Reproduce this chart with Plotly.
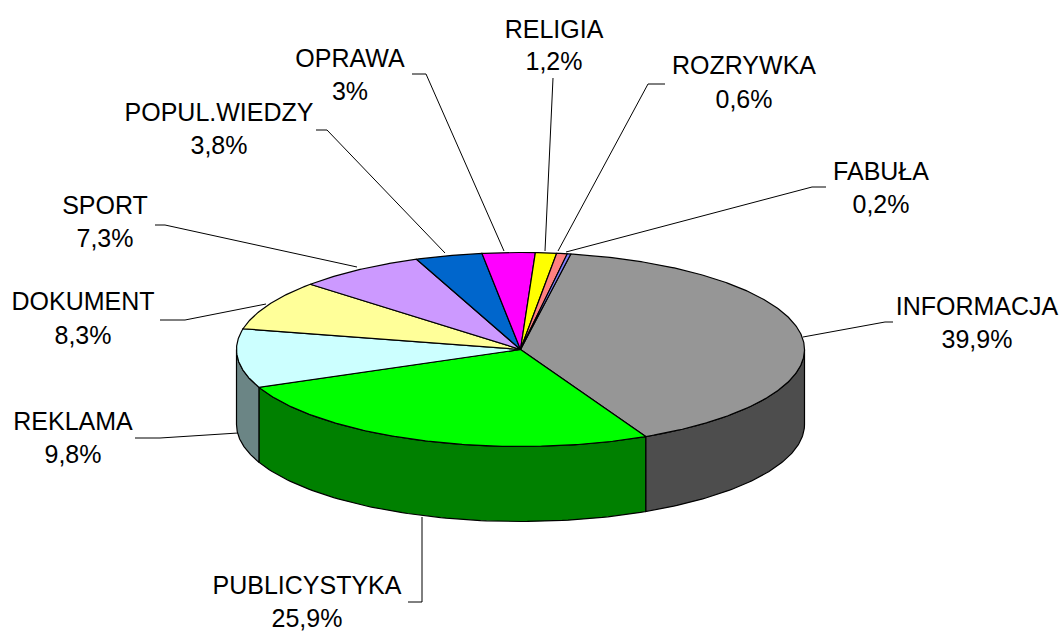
import numpy as np
import plotly.graph_objects as go

categories = ["INFORMACJA", "PUBLICYSTYKA", "REKLAMA", "DOKUMENT", "SPORT",
              "POPUL.WIEDZY", "OPRAWA", "RELIGIA", "ROZRYWKA", "FABUŁA"]
values = [39.9, 25.9, 9.8, 8.3, 7.3, 3.8, 3.0, 1.2, 0.6, 0.2]
value_labels = ["39,9%", "25,9%", "9,8%", "8,3%", "7,3%", "3,8%", "3%", "1,2%", "0,6%", "0,2%"]

top_colors = ["#969696", "#00FF00", "#CCFFFF", "#FFFF99", "#CC99FF",
              "#0066CC", "#FF00FF", "#FFFF00", "#FF8080", "#8080FF"]
side_colors = ["#4D4D4D", "#008000", "#6B8585", "#808050", "#665080",
               "#003366", "#800080", "#808000", "#804040", "#404080"]

# geometry of the projected disc (pixels)
CX, CY, RX, RY, DEPTH = 520.5, 349.5, 284.0, 97.0, 75.0
START = 10.2

# label layout (pixels): centre x, first-line y, second-line y
label_x = [977, 307, 73, 83, 105, 219, 350, 554, 744, 881]
label_y1 = [309, 588, 424, 304, 208, 115, 61, 32, 68, 174]
label_y2 = [342, 621, 457, 338, 241, 148, 94, 64, 102, 207]
leaders = [
    [(803, 337), (885, 322), (893, 322)],
    [(422, 517), (422, 602), (408, 602)],
    [(238, 433), (160, 438), (135, 438)],
    [(266, 304), (185, 320), (160, 320)],
    [(357, 267), (165, 225), (155, 225)],
    [(445, 253), (327, 130), (316, 130)],
    [(504, 251), (426, 74), (412, 74)],
    [(545, 251), (553, 78)],
    [(558, 251), (648, 84), (665, 84)],
    [(566, 252), (812, 187), (826, 187)],
]


def ellipse(t_deg, dy=0.0):
    t = np.radians(t_deg)
    return CX + RX * np.sin(t), CY - RY * np.cos(t) + dy


fig = go.Figure()
angles = START + np.concatenate([[0], np.cumsum(values)]) * 3.6

# sides
for i in range(len(values)):
    a, b = max(angles[i], 90), min(angles[i + 1], 270)
    if b <= a:
        continue
    t = np.linspace(a, b, 80)
    x1, y1 = ellipse(t)
    x2, y2 = ellipse(t[::-1], DEPTH)
    fig.add_trace(go.Scatter(
        x=np.r_[x1, x2, x1[0]], y=np.r_[y1, y2, y1[0]], mode="lines", fill="toself",
        fillcolor=side_colors[i], line=dict(color="black", width=1.2), hoverinfo="skip"))

# tops
for i in range(len(values)):
    t = np.linspace(angles[i], angles[i + 1], max(3, int(values[i] * 8)))
    x, y = ellipse(t)
    fig.add_trace(go.Scatter(
        x=np.r_[CX, x, CX], y=np.r_[CY, y, CY], mode="lines", fill="toself",
        fillcolor=top_colors[i], line=dict(color="black", width=1.2),
        name=categories[i], hoverinfo="skip"))

# leader lines
for pts in leaders:
    fig.add_trace(go.Scatter(x=[p[0] for p in pts], y=[p[1] for p in pts], mode="lines",
                             line=dict(color="black", width=1), hoverinfo="skip"))

# labels
font = dict(family="Liberation Sans, Arial, sans-serif", size=25, color="black")
fig.add_trace(go.Scatter(x=label_x, y=label_y1, mode="text", text=categories,
                         textposition="middle center", textfont=font, hoverinfo="skip",
                         cliponaxis=False))
fig.add_trace(go.Scatter(x=label_x, y=label_y2, mode="text", text=value_labels,
                         textposition="middle center", textfont=font, hoverinfo="skip",
                         cliponaxis=False))

fig.update_layout(
    width=1061, height=631, margin=dict(l=0, r=0, t=0, b=0),
    paper_bgcolor="white", plot_bgcolor="white", showlegend=False,
    xaxis=dict(range=[0, 1061], visible=False, fixedrange=True),
    yaxis=dict(range=[631, 0], visible=False, fixedrange=True),
)
fig.write_html("out.html", config=dict(displayModeBar=False),
               post_script="document.body.style.margin='0';document.documentElement.style.overflow='hidden';")
